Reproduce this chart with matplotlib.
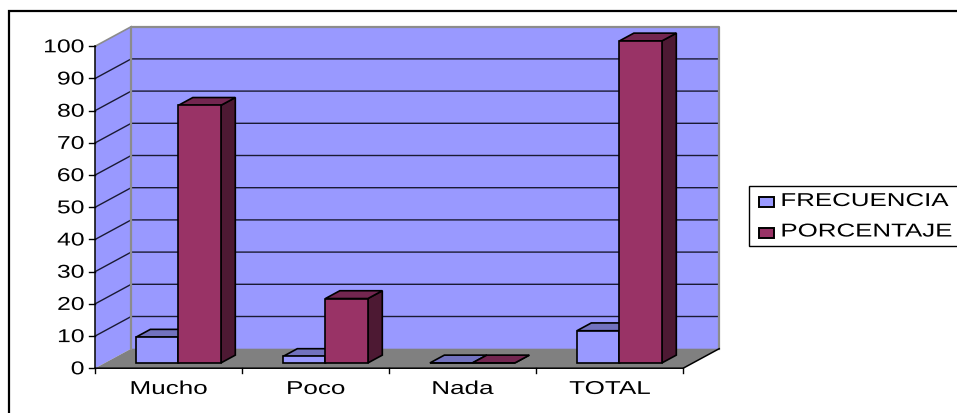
import matplotlib
matplotlib.use('Agg')
import matplotlib.pyplot as plt
from matplotlib.patches import Polygon, Rectangle
from matplotlib.patheffects import AbstractPathEffect
from matplotlib.transforms import Affine2D

categories = ['Mucho', 'Poco', 'Nada', 'TOTAL']
frecuencia = [8, 2, 0, 10]
porcentaje = [80, 20, 0, 100]
series_names = ['FRECUENCIA', 'PORCENTAJE']
y_ticks = list(range(0, 101, 10))

W, H = 957, 414
PERIWINKLE = '#9999ff'
PERI_TOP = '#7272bf'
MAROON = '#993366'
MAROON_TOP = '#732650'
MAROON_SIDE = '#4d1933'
FLOOR = '#808080'
WALL_EDGE = '#8c8c8c'

# the picture is wider than the font, so text gets stretched sideways
class Stretch(AbstractPathEffect):
    def __init__(self, sx, anchor):
        super().__init__()
        self.sx = sx
        self.anchor = anchor  # 0 left, 0.5 center, 1 right

    def draw_path(self, renderer, gc, tpath, affine, rgbFace=None):
        box = tpath.get_extents()
        x = box.x0 + self.anchor * box.width
        t = Affine2D().translate(-x, 0).scale(self.sx, 1).translate(x, 0)
        renderer.draw_path(gc, tpath, t + affine, rgbFace)


plt.rcParams['font.family'] = 'Liberation Sans'
fig = plt.figure(figsize=(W / 100, H / 100), dpi=100)

# frame round the whole chart, runs off the right and the bottom
bg = fig.add_axes([0, 0, 1, 1])
bg.set_xlim(0, W)
bg.set_ylim(H, 0)
bg.axis('off')
bg.add_patch(Rectangle((8.5, 11.5), W + 10, H, fc='white', ec='black', lw=1.6))

# front plane of the 3d box
left, right, top, bottom = 95.2, 683.2, 47.2, 369.2
ax = fig.add_axes([left / W, 1 - bottom / H, (right - left) / W, (bottom - top) / H])
ax.set_xlim(0, len(categories))
ax.set_ylim(0, 100)
ax.axis('off')

# depth of the box in data units
n = len(categories)
DX = 36 / ((right - left) / n)
DY = 19.5 / ((bottom - top) / 100)


def pt(x, y, d):
    return (x + d * DX, y + d * DY)


def poly(points, fc, ec='none', lw=0, z=1):
    ax.add_patch(Polygon(points, closed=True, fc=fc, ec=ec, lw=lw, zorder=z,
                         clip_on=False, joinstyle='miter'))


# walls and floor
poly([pt(0, 0, 1), pt(n, 0, 1), pt(n, 100, 1), pt(0, 100, 1)], PERIWINKLE, z=1)
poly([pt(0, 0, 0), pt(0, 0, 1), pt(0, 100, 1), pt(0, 100, 0)], PERIWINKLE, z=1)
poly([pt(0, 0, 0), pt(n, 0, 0), pt(n, 0, 1), pt(0, 0, 1)], FLOOR, z=2)

for v in y_ticks[1:-1]:
    ax.plot([pt(0, v, 0)[0], pt(0, v, 1)[0], pt(n, v, 1)[0]],
            [pt(0, v, 0)[1], pt(0, v, 1)[1], pt(n, v, 1)[1]],
            color='#1a1a33', lw=1.0, zorder=2, clip_on=False)

# grey edges of the wall
ax.plot([pt(0, 0, 1)[0], pt(0, 100, 1)[0], pt(n, 100, 1)[0], pt(n, 0, 1)[0]],
        [pt(0, 0, 1)[1], pt(0, 100, 1)[1], pt(n, 100, 1)[1], pt(n, 0, 1)[1]],
        color=WALL_EDGE, lw=1.6, zorder=3, clip_on=False)
ax.plot([pt(0, 100, 0)[0], pt(0, 100, 1)[0]], [pt(0, 100, 0)[1], pt(0, 100, 1)[1]],
        color=WALL_EDGE, lw=1.2, zorder=3, clip_on=False)

# axis lines and ticks
ax.plot([0, 0], [0, 100], color='black', lw=1.1, zorder=3, clip_on=False)
ax.plot([0, n, pt(n, 0, 1)[0]], [0, 0, pt(n, 0, 1)[1]], color='black', lw=1.1, zorder=3, clip_on=False)
tick_dx = 6 / ((right - left) / n)
tick_dy = 5 / ((bottom - top) / 100)
for v in y_ticks:
    ax.plot([-tick_dx, 0], [v, v], color='black', lw=1.0, clip_on=False, zorder=3)
    ax.text(-0.0735, v - 0.5, str(v), ha='right', va='center', fontsize=13.4, clip_on=False,
            path_effects=[Stretch(1.33, 1)])
for i in range(n + 1):
    ax.plot([i, i], [0, -tick_dy], color='black', lw=1.0, clip_on=False, zorder=3)
for i, c in enumerate(categories):
    ax.text(i + 0.5, -6.6, c, ha='center', va='center', fontsize=13.4,
            clip_on=False, path_effects=[Stretch(1.4, 0.5)])

# bars
BAR_W = 0.289
D0, D1 = 0.27, 0.67


def bar3d(x0, v, front, topc, side, z):
    x1 = x0 + BAR_W
    a, b = pt(x0, 0, D0), pt(x1, 0, D0)
    c, d = pt(x1, v, D0), pt(x0, v, D0)
    e, f, g = pt(x1, 0, D1), pt(x1, v, D1), pt(x0, v, D1)
    poly([b, e, f, c], side, 'black', 1.2, z)
    poly([d, c, f, g], topc, 'black', 1.2, z)
    poly([a, b, c, d], front, 'black', 1.2, z + 0.1)


for i in range(n):
    x0 = i + 0.5 - BAR_W
    bar3d(x0, frecuencia[i], PERIWINKLE, PERI_TOP, PERI_TOP, 4 + i)
    bar3d(x0 + BAR_W, porcentaje[i], MAROON, MAROON_TOP, MAROON_SIDE, 4.5 + i)

# legend box, also runs off the right side
bg.add_patch(Rectangle((749, 187), W, 60, fc='white', ec='black', lw=1.0))
for name, col, y in zip(series_names, [PERIWINKLE, MAROON], [203, 233.5]):
    bg.add_patch(Rectangle((759, y - 5), 14.5, 10, fc=col, ec='black', lw=1.4))
    bg.text(781, y - 0.5, name, ha='left', va='center', fontsize=13.4,
            path_effects=[Stretch(1.39, 0)])

fig.savefig('out.png', dpi=100)
